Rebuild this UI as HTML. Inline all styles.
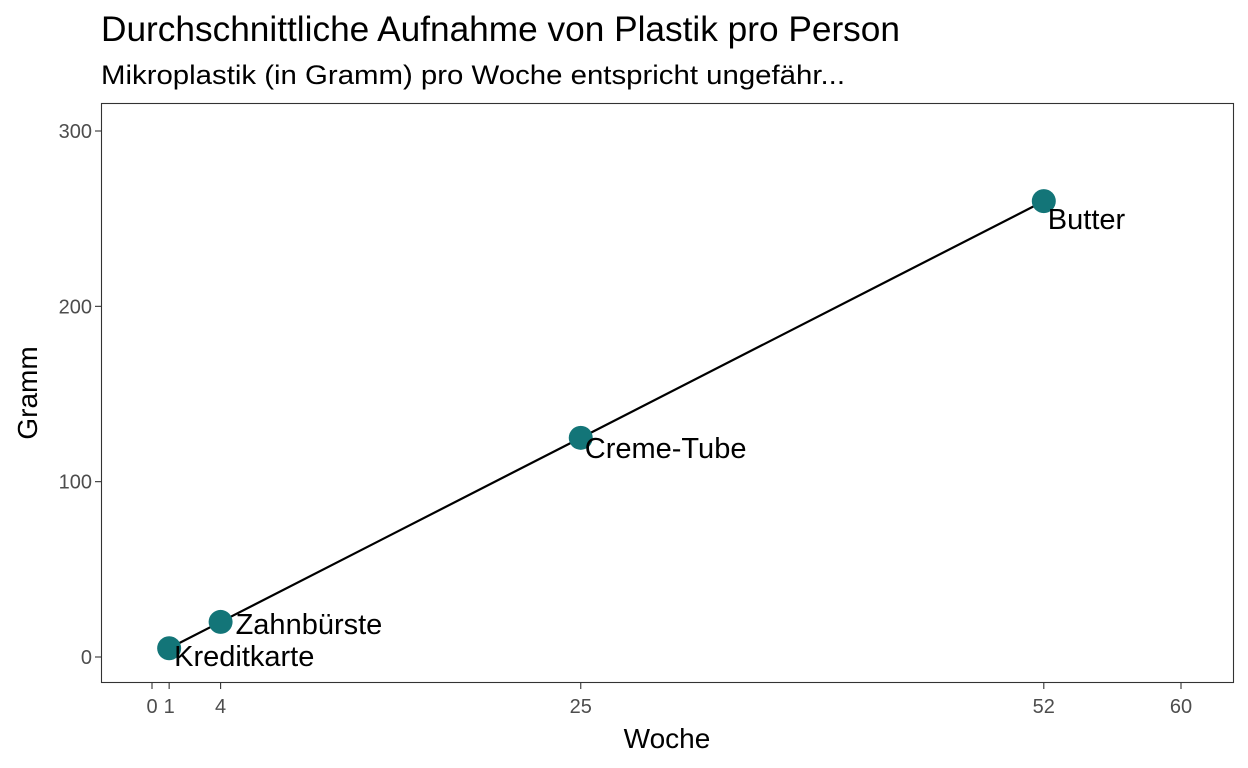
<!DOCTYPE html>
<html><head><meta charset="utf-8"><style>
body{margin:0;background:#fff;}
svg{display:block;font-family:"Liberation Sans",Arial,sans-serif;}
</style></head><body>
<svg id="chart" width="1248" height="768">
<text x="101" y="41" font-size="35" textLength="799" lengthAdjust="spacingAndGlyphs" fill="#000">Durchschnittliche Aufnahme von Plastik pro Person</text>
<text x="101" y="84" font-size="27" textLength="744" lengthAdjust="spacingAndGlyphs" fill="#000">Mikroplastik (in Gramm) pro Woche entspricht ungefähr...</text>
<rect x="101.5" y="103.5" width="1132" height="579" fill="none" stroke="#333" stroke-width="1.1"/>
<g id="xaxis"></g>
<g id="yaxis"></g>
<text x="667" y="748" font-size="28" text-anchor="middle">Woche</text>
<text transform="translate(37,393) rotate(-90)" font-size="28" text-anchor="middle">Gramm</text>
<g id="marks"></g>
</svg>
<script>
const weeks=[1,4,25,52];
const grams=[5,20,125,260];
const names=["Kreditkarte","Zahnbürste","Creme-Tube","Butter"];
const xTicks=[0,1,4,25,52,60];
const yTicks=[0,100,200,300];
const labelDx=[5,15,4,4], labelDy=[18,12,20,28];
const xs=v=>152+v*(1181-152)/60;
const ys=v=>657-v*(657-131)/300;
const NS="http://www.w3.org/2000/svg";
function mk(t,a,p){const e=document.createElementNS(NS,t);for(const k in a)e.setAttribute(k,a[k]);p.appendChild(e);return e;}
const xa=document.getElementById('xaxis'),ya=document.getElementById('yaxis'),m=document.getElementById('marks');
xTicks.forEach(v=>{
 const l=mk('line',{x1:xs(v),x2:xs(v),y1:683,y2:689,stroke:'#333','stroke-width':1.1},xa);
 
 
 const t=mk('text',{x:xs(v),y:713,'font-size':20,fill:'#4d4d4d','text-anchor':'middle'},xa);t.textContent=v;
 
 
});
yTicks.forEach(v=>{
 const l=mk('line',{x1:95,x2:101,y1:ys(v),y2:ys(v),stroke:'#333','stroke-width':1.1},ya);
 
 
 const t=mk('text',{x:92,y:ys(v)+7,'font-size':20,fill:'#4d4d4d','text-anchor':'end'},ya);t.textContent=v;
 
 
});
const line=mk('polyline',{points:weeks.map((w,i)=>xs(w)+','+ys(grams[i])).join(' '),fill:'none',stroke:'#000','stroke-width':2.2},m);


weeks.forEach((w,i)=>{
 const c=mk('circle',{cx:xs(w),cy:ys(grams[i]),r:12,fill:'#137578'},m);
 
 
 const t=mk('text',{x:xs(w)+labelDx[i],y:ys(grams[i])+labelDy[i],'font-size':29,fill:'#000'},m);t.textContent=names[i];
 
 
});
</script>
</body></html>
